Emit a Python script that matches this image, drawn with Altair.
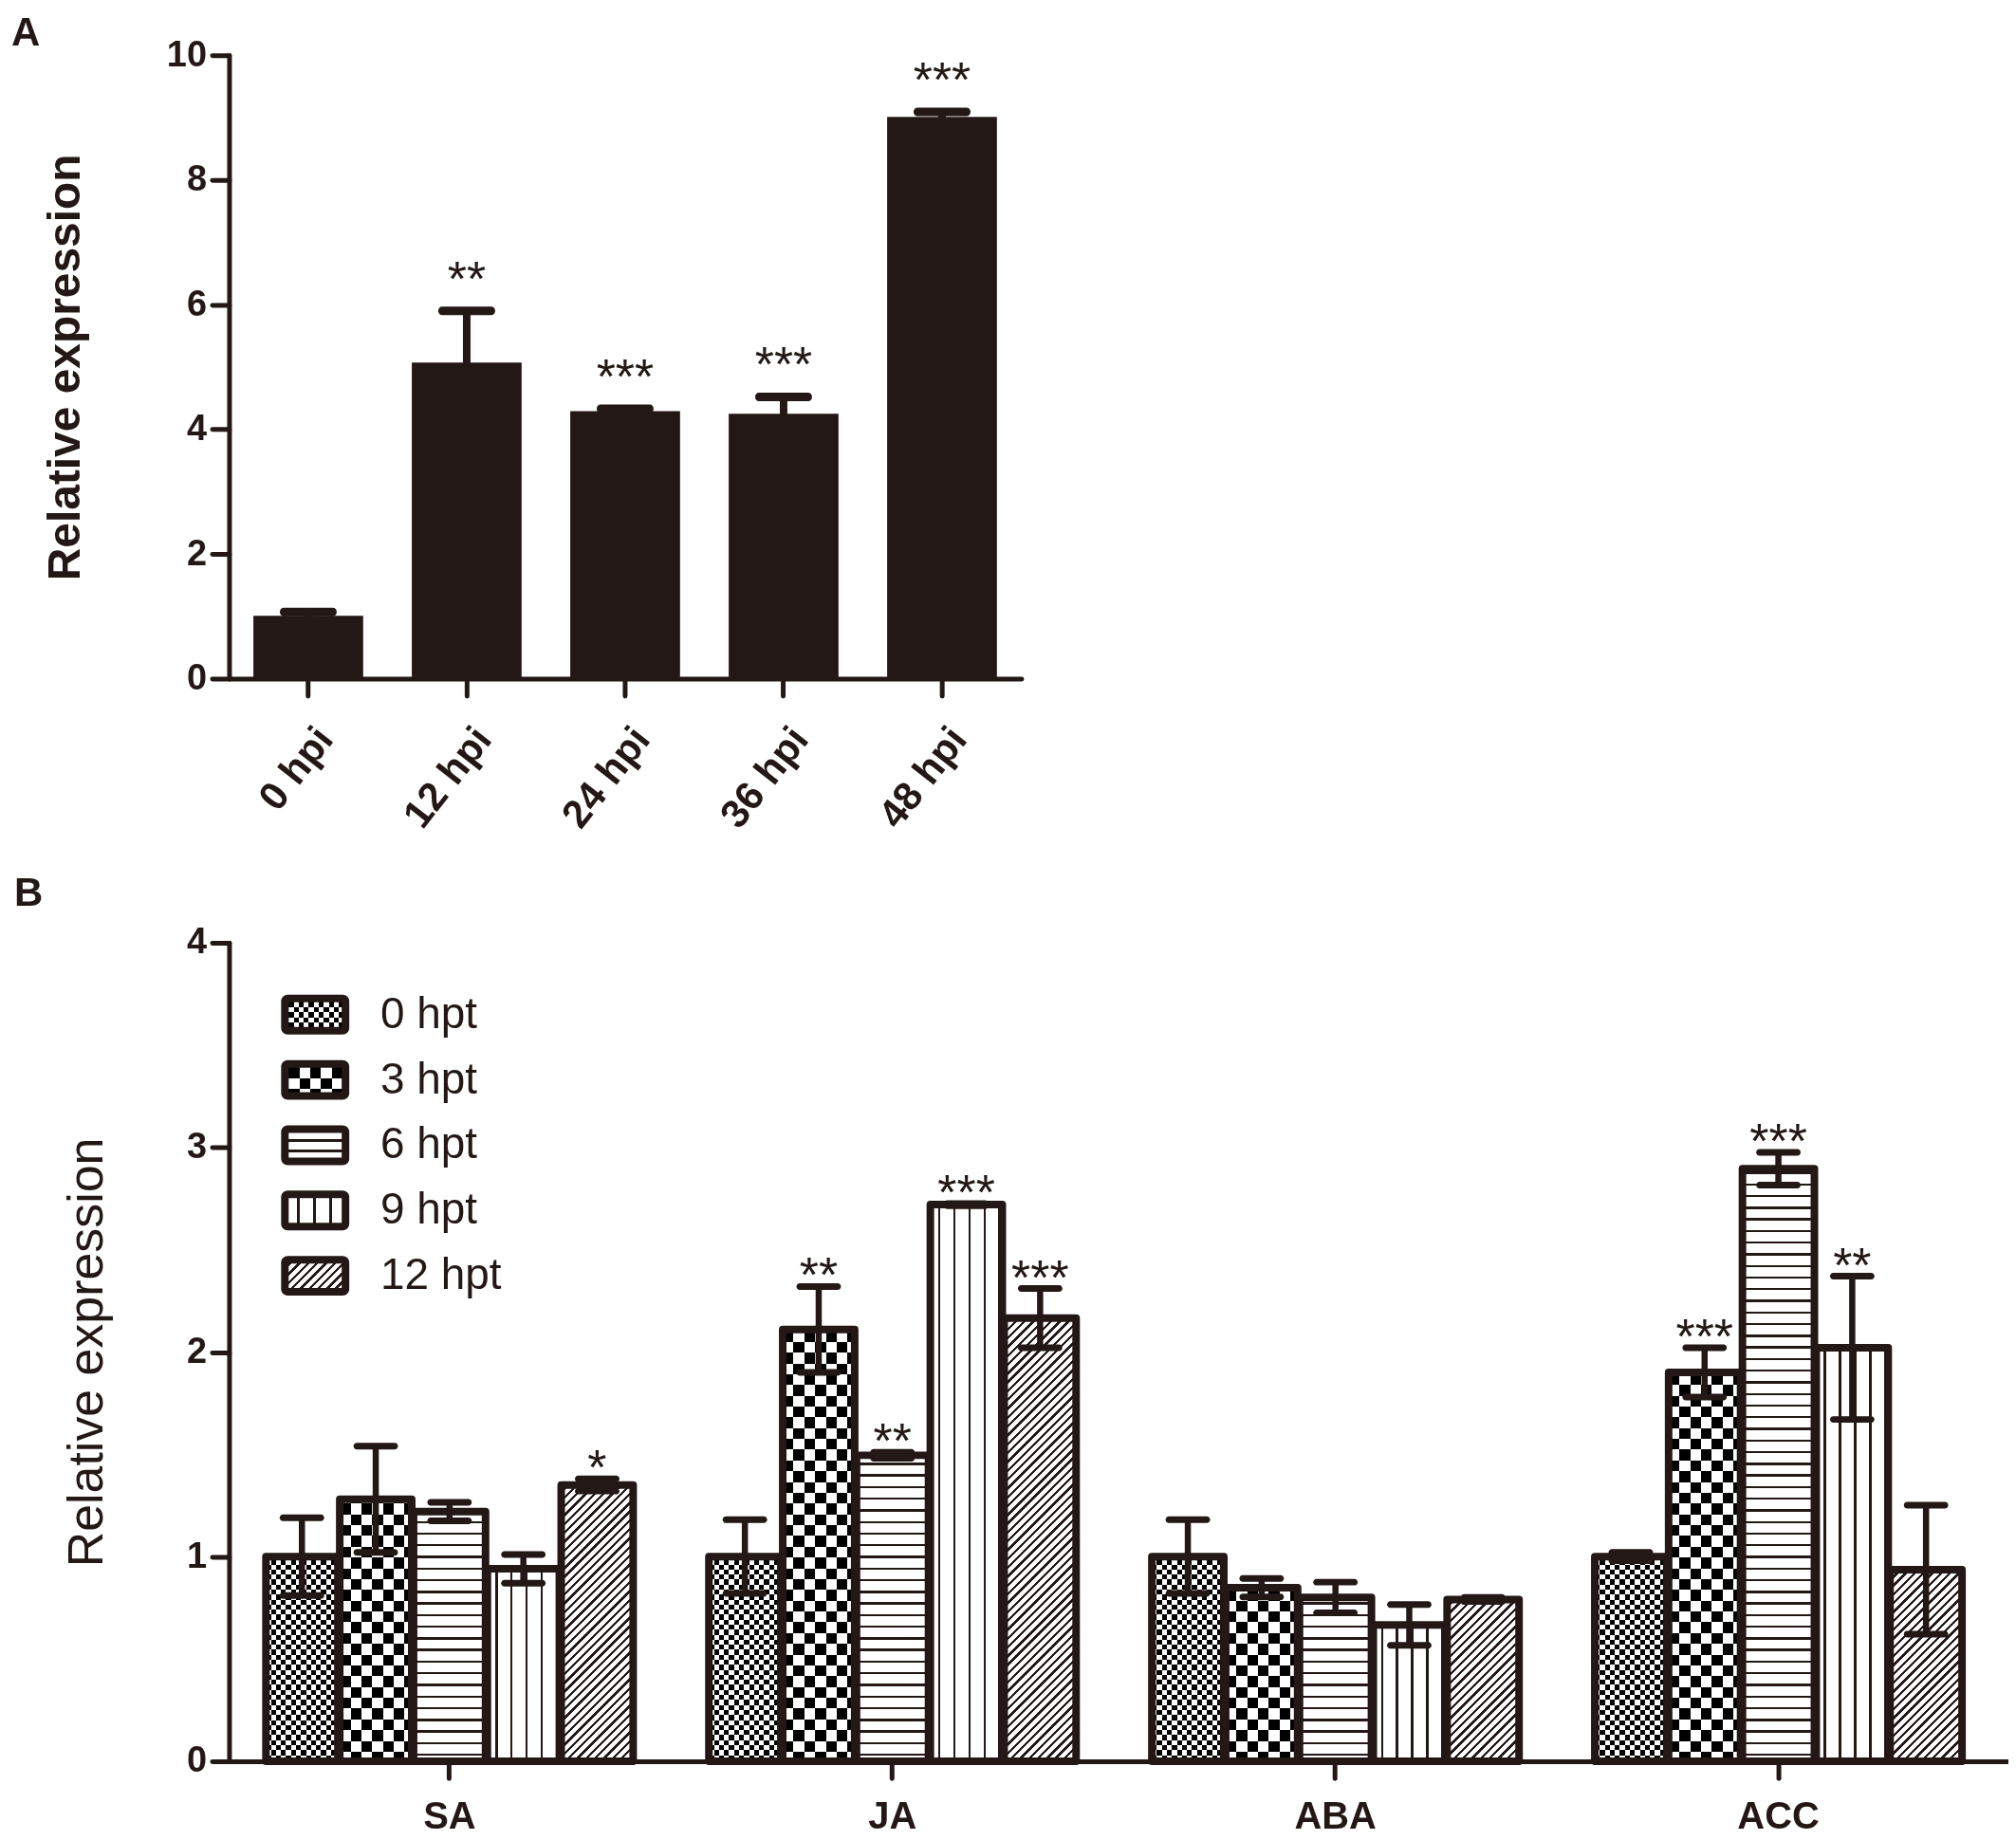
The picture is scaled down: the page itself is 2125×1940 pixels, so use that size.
import math
import altair as alt
import pandas as pd

INK = "#231816"
FONT = "Liberation Sans"

# ---------------- Panel A data ----------------
timepoints_a = ["0 hpi", "12 hpi", "24 hpi", "36 hpi", "48 hpi"]
expression_a = [1.01, 5.07, 4.29, 4.25, 9.01]
sem_a = [0.06, 0.83, 0.04, 0.27, 0.08]
stars_a = ["", "**", "***", "***", "***"]

# ---------------- Panel B data ----------------
hormones = ["SA", "JA", "ABA", "ACC"]
treatments = ["0 hpt", "3 hpt", "6 hpt", "9 hpt", "12 hpt"]
expr_SA = [1.00, 1.28, 1.22, 0.94, 1.35]
sem_SA = [0.19, 0.26, 0.045, 0.07, 0.03]
stars_SA = ["", "", "", "", "*"]
expr_JA = [1.00, 2.11, 1.495, 2.72, 2.165]
sem_JA = [0.18, 0.21, 0.015, 0.005, 0.145]
stars_JA = ["", "**", "**", "***", "***"]
expr_ABA = [1.00, 0.848, 0.80, 0.666, 0.79]
sem_ABA = [0.18, 0.045, 0.075, 0.10, 0.01]
stars_ABA = ["", "", "", "", ""]
expr_ACC = [1.00, 1.90, 2.895, 2.02, 0.936]
sem_ACC = [0.02, 0.12, 0.08, 0.35, 0.315]
stars_ACC = ["", "***", "***", "**", ""]

df_a = pd.DataFrame({
    "time": timepoints_a,
    "value": expression_a,
    "lo": [v - e for v, e in zip(expression_a, sem_a)],
    "hi": [v + e for v, e in zip(expression_a, sem_a)],
    "star": stars_a,
})

rows = []
for h, ex, se, st in [("SA", expr_SA, sem_SA, stars_SA), ("JA", expr_JA, sem_JA, stars_JA),
                      ("ABA", expr_ABA, sem_ABA, stars_ABA), ("ACC", expr_ACC, sem_ACC, stars_ACC)]:
    for t, v, e, s in zip(treatments, ex, se, st):
        rows.append({"hormone": h, "treatment": t, "value": v, "lo": v - e, "hi": v + e, "star": s})
df_b = pd.DataFrame(rows)

# ---------------- layout ----------------
A_W, A_H = 837, 659
B_W, B_H = 1880, 865
G_PI, G_PO, G_ALIGN = 0.171, 0.094, 0.443
S_PI = 0.025
group_bw = B_W / (len(hormones) - G_PI + 2 * G_PO) * (1 - G_PI)
bar_w = group_bw / (len(treatments) - S_PI) * (1 - S_PI)


# ---------------- hatch patterns via sharp-stop gradients ----------------
def stripe_stops(period, span, line, on, off, phase=0.0):
    f = period / span
    d = line / span
    stops = []
    s = -phase / span
    while s < 1:
        for a, b, c in ((s, s + d, on), (s + d, s + f, off)):
            a2, b2 = max(a, 0.0), min(b, 1.0)
            if b2 > a2:
                stops.append({"offset": round(a2, 5), "color": c})
                stops.append({"offset": round(b2, 5), "color": c})
        s += f
    return stops


def grad(x1, y1, x2, y2, stops):
    return {"gradient": "linear", "x1": x1, "y1": y1, "x2": x2, "y2": y2, "stops": stops}


def vlines(w, period, line, on=INK, off="white", phase=0.0):
    return grad(0, 0, 1, 0, stripe_stops(period, w, line, on, off, phase))


def hlines(h, period, line, on=INK, off="white", phase=0.0):
    return grad(0, 0, 0, 1, stripe_stops(period, h, line, on, off, phase))


def diag(w, h, period, line, on=INK, off="white"):
    c = (1 / h + 1 / w) / (1 / h ** 2 + 1 / w ** 2)
    span = (w + h) / math.sqrt(2)
    return grad(0, 0, c / h, c / w, stripe_stops(period, span, line, on, off))


def pattern_fills(name, w, h, legend=False):
    """list of (fill, blend) layers making the pattern of one series"""
    if name == "0 hpt":
        p = 10.6
        return [(vlines(w, p, p / 2, "black", "white"), None),
                (hlines(h, p, p / 2, "black", "white"), "difference")]
    if name == "3 hpt":
        p = 22.8
        return [(vlines(w, p, p / 2, "black", "white"), None),
                (hlines(h, p, p / 2, "black", "white"), "difference")]
    if name == "6 hpt":
        return [(hlines(h, 11.0 if legend else 12.3, 2.4, phase=4.0), None)]
    if name == "9 hpt":
        return [(vlines(w, 17.0 if legend else 16.0, 3.2 if legend else 2.8, phase=8.0), None)]
    return [(diag(w, h, 6.6, 2.4), None)]


# ---------------- Panel A ----------------
common_axis = dict(tickSize=18, tickWidth=5, domainWidth=5, domainColor=INK, tickColor=INK,
                   labelColor=INK, titleColor=INK, grid=False, domainCap="round", tickCap="round",
                   labelFont=FONT, titleFont=FONT)

ax_a_y = alt.Axis(values=[0, 2, 4, 6, 8, 10], title="Relative expression", titleFontSize=48,
                  titleFontWeight="bold", titlePadding=82, labelFontSize=38, labelFontWeight="bold",
                  labelPadding=6, **common_axis)
ax_a_x = alt.Axis(title=None, labelAngle=-52, labelAlign="right", labelBaseline="top",
                  labelFontSize=42, labelFontWeight="bold", labelPadding=26, labelOffset=2,
                  **common_axis)

xA = alt.X("time:N", sort=timepoints_a,
           scale=alt.Scale(domain=timepoints_a, paddingInner=0.307, paddingOuter=0.1535), axis=ax_a_x)
ysA = alt.Scale(domain=[0, 10])


def yA(f):
    return alt.Y(f"{f}:Q", scale=ysA, axis=ax_a_y)


baseA = alt.Chart(df_a)
barsA = baseA.mark_bar(color=INK).encode(x=xA, y=yA("value"))
stemA = baseA.mark_rule(color=INK, strokeWidth=8).encode(x=xA, y=yA("lo"), y2="hi:Q")
capA = baseA.mark_tick(color=INK, size=60, thickness=9, cornerRadius=4, opacity=1).encode(x=xA, y=yA("hi"))
starA = baseA.mark_text(font=FONT, fontSize=52, color=INK, baseline="alphabetic", dy=-16).encode(
    x=xA, y=yA("hi"), text="star:N")

chartA = alt.layer(barsA, stemA, capA, starA).properties(
    width=A_W, height=A_H,
    title=alt.TitleParams("A", anchor="start", frame="group", dx=-230, offset=-51, fontSize=42,
                          fontWeight="bold", baseline="alphabetic", color=INK, font=FONT),
)

# ---------------- Panel B ----------------
ax_b_y = alt.Axis(values=[0, 1, 2, 3, 4], title="Relative expression", titleFontSize=52,
                  titleFontWeight="normal", titlePadding=78, labelFontSize=38, labelFontWeight="bold",
                  labelPadding=6, **common_axis)
ax_b_x = alt.Axis(title=None, labelAngle=0, labelFontSize=40, labelFontWeight="bold",
                  labelPadding=21, **common_axis)

xB = alt.X("hormone:N", sort=hormones,
           scale=alt.Scale(domain=hormones, paddingInner=G_PI, paddingOuter=G_PO, align=G_ALIGN),
           axis=ax_b_x)
xoB = alt.XOffset("treatment:N", sort=treatments,
                  scale=alt.Scale(domain=treatments, paddingInner=S_PI, paddingOuter=0))
ysB = alt.Scale(domain=[0, 4])


def yB(f):
    return alt.Y(f"{f}:Q", scale=ysB, axis=ax_b_y)


def yBd(v):
    return alt.YDatum(v, scale=ysB, axis=ax_b_y, type="quantitative")


baseB = alt.Chart(df_b)
layersB = []
# pattern columns (full height), then white covers above each bar's value
for t in treatments:
    for fill, blend in pattern_fills(t, bar_w, B_H):
        kw = {"fill": fill}
        if blend:
            kw["blend"] = blend
        layersB.append(
            baseB.transform_filter(alt.datum.treatment == t).mark_bar(**kw).encode(
                x=xB, xOffset=xoB, y=yBd(4), y2=alt.datum(0)))
layersB.append(baseB.mark_bar(fill="white", stroke="white", strokeWidth=3).encode(
    x=xB, xOffset=xoB, y=yB("value"), y2=alt.datum(4)))
layersB.append(baseB.mark_bar(fillOpacity=0, stroke=INK, strokeWidth=8, strokeJoin="round").encode(
    x=xB, xOffset=xoB, y=yB("value"), y2=alt.datum(0)))
layersB.append(baseB.mark_rule(color=INK, strokeWidth=6.5).encode(x=xB, xOffset=xoB, y=yB("lo"), y2="hi:Q"))
layersB.append(baseB.mark_tick(color=INK, size=47, thickness=7, cornerRadius=3.5, opacity=1).encode(
    x=xB, xOffset=xoB, y=yB("hi")))
layersB.append(baseB.mark_tick(color=INK, size=47, thickness=7, cornerRadius=3.5, opacity=1).encode(
    x=xB, xOffset=xoB, y=yB("lo")))
layersB.append(baseB.mark_text(font=FONT, fontSize=52, color=INK, baseline="alphabetic", dy=6).encode(
    x=xB, xOffset=xoB, y=yB("hi"), text="star:N"))

# legend (drawn inside the plot, top-left)
LEG_X, LEG_W, LEG_H, LEG_CY0, LEG_DY, LEG_INSET, LEG_TX = 55, 72, 42, 76, 69, 8, 160
leg_df = pd.DataFrame({"treatment": treatments})
for i, t in enumerate(treatments):
    cy = LEG_CY0 + i * LEG_DY
    one = alt.Chart(leg_df).transform_filter(alt.datum.treatment == t)
    layersB.append(one.mark_rect(fill=INK, cornerRadius=7).encode(
        x=alt.value(LEG_X), x2=alt.value(LEG_X + LEG_W),
        y=alt.value(cy - LEG_H / 2), y2=alt.value(cy + LEG_H / 2)))
    iw, ih = LEG_W - 2 * LEG_INSET, LEG_H - 2 * LEG_INSET
    for fill, blend in pattern_fills(t, iw, ih, legend=True):
        kw = {"fill": fill}
        if blend:
            kw["blend"] = blend
        layersB.append(one.mark_rect(**kw).encode(
            x=alt.value(LEG_X + LEG_INSET), x2=alt.value(LEG_X + LEG_W - LEG_INSET),
            y=alt.value(cy - ih / 2), y2=alt.value(cy + ih / 2)))
    layersB.append(one.mark_text(font=FONT, fontSize=46, color=INK, align="left", baseline="middle").encode(
        x=alt.value(LEG_TX), y=alt.value(cy), text="treatment:N"))

chartB = alt.layer(*layersB).properties(
    width=B_W, height=B_H,
    title=alt.TitleParams("B", anchor="start", frame="group", dx=-227, offset=-22, fontSize=42,
                          fontWeight="bold", baseline="alphabetic", color=INK, font=FONT),
)

chart = alt.vconcat(chartA, chartB, spacing=41).properties(
    padding={"left": 4, "top": 4, "right": 0, "bottom": 0}
).configure(font=FONT).configure_view(strokeWidth=0)

chart.save("out.html", embed_options={"renderer": "svg", "actions": False})
